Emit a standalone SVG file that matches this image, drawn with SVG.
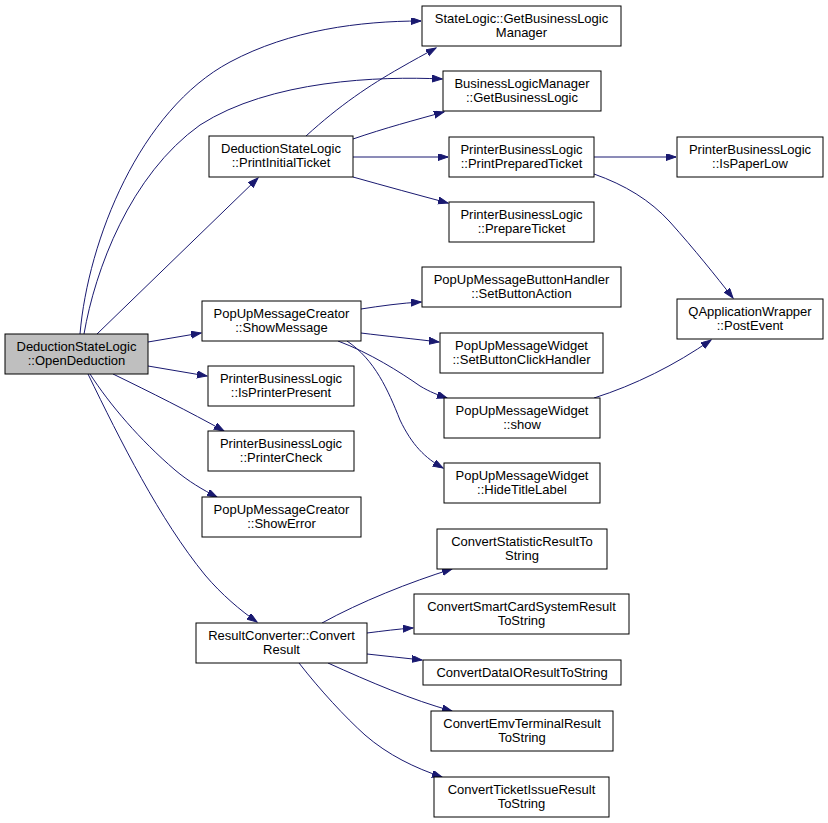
<svg xmlns="http://www.w3.org/2000/svg" width="828" height="823" viewBox="0 0 828 823">
<defs>
<style>
.n rect{fill:#fff;stroke:#000;stroke-width:1}
.n.root rect{fill:#bfbfbf}
.n text{font-family:"Liberation Sans",Arial,sans-serif;font-size:13px;fill:#000;text-anchor:middle}
.e path{fill:none;stroke:#191970;stroke-width:1;marker-end:url(#ah)}
</style>
<marker id="ah" markerWidth="11" markerHeight="8" refX="10" refY="3.5" orient="auto" markerUnits="userSpaceOnUse">
<path d="M0,0 L10,3.5 L0,7 z" fill="#191970" stroke="#191970" stroke-width="1"/>
</marker>
</defs>
<rect width="828" height="823" fill="#fff"/>
<g id="edges" class="e">
<path d="M97,334 L258,178"/>
<path d="M80,334 C88,240 140,110 230,62 C290,30 360,21 421,21"/>
<path d="M84,334 C95,270 130,175 200,125 C270,80 380,76 442,79"/>
<path d="M306,136 C340,105 370,85 400,68 C412,61 425,54 436,48"/>
<path d="M353,139 C385,128 415,120 444,112"/>
<path d="M353,157 L448,157"/>
<path d="M353,177 C385,186 418,195 448,203"/>
<path d="M594,157 L676,157"/>
<path d="M594,174 C625,185 650,200 670,222 C695,250 715,275 733,298"/>
<path d="M594,398 C635,385 675,365 711,340"/>
<path d="M148,342 L201,333"/>
<path d="M148,366 L207,376"/>
<path d="M113,374 C150,392 190,412 224,431"/>
<path d="M90,374 C110,405 140,440 175,470 C188,481 203,490 217,497"/>
<path d="M88,374 C120,440 160,520 205,575 C222,595 240,610 257,622"/>
<path d="M361,309 C380,306 402,303 421,302"/>
<path d="M361,333 C385,336 415,339 439,342"/>
<path d="M338,341 C370,353 400,372 420,386 C430,392 438,395 447,398"/>
<path d="M347,341 C375,360 388,390 400,420 C412,445 425,458 443,468"/>
<path d="M322,623 C360,602 410,582 452,569"/>
<path d="M367,633 C383,631 398,629 413,628"/>
<path d="M367,654 C385,656 404,658 422,660"/>
<path d="M328,663 C370,682 412,700 452,711"/>
<path d="M299,663 C320,690 345,717 365,735 C388,755 415,768 442,777"/>
</g>
<g id="n0" class="n root"><rect x="5" y="334" width="143" height="40"/><text x="76.5" y="350.5">DeductionStateLogic</text><text x="76.5" y="364.5">::OpenDeduction</text></g>
<g id="n1" class="n"><rect x="209" y="136" width="144" height="41"/><text x="281" y="152.5">DeductionStateLogic</text><text x="281" y="166.5">::PrintInitialTicket</text></g>
<g id="n2" class="n"><rect x="422" y="6" width="199" height="40"/><text x="521.5" y="22.5">StateLogic::GetBusinessLogic</text><text x="521.5" y="36.5">Manager</text></g>
<g id="n3" class="n"><rect x="443" y="71" width="158" height="40"/><text x="522" y="87.5">BusinessLogicManager</text><text x="522" y="101.5">::GetBusinessLogic</text></g>
<g id="n4" class="n"><rect x="449" y="137" width="145" height="40"/><text x="521.5" y="153.5">PrinterBusinessLogic</text><text x="521.5" y="167.5">::PrintPreparedTicket</text></g>
<g id="n5" class="n"><rect x="677" y="137" width="146" height="40"/><text x="750" y="153.5">PrinterBusinessLogic</text><text x="750" y="167.5">::IsPaperLow</text></g>
<g id="n6" class="n"><rect x="449" y="202" width="145" height="40"/><text x="521.5" y="218.5">PrinterBusinessLogic</text><text x="521.5" y="232.5">::PrepareTicket</text></g>
<g id="n7" class="n"><rect x="422" y="267" width="199" height="40"/><text x="521.5" y="283.5">PopUpMessageButtonHandler</text><text x="521.5" y="297.5">::SetButtonAction</text></g>
<g id="n8" class="n"><rect x="677" y="299" width="146" height="40"/><text x="750" y="315.5">QApplicationWrapper</text><text x="750" y="329.5">::PostEvent</text></g>
<g id="n9" class="n"><rect x="440" y="333" width="163" height="40"/><text x="521.5" y="349.5">PopUpMessageWidget</text><text x="521.5" y="363.5">::SetButtonClickHandler</text></g>
<g id="n10" class="n"><rect x="444" y="398" width="156" height="40"/><text x="522" y="414.5">PopUpMessageWidget</text><text x="522" y="428.5">::show</text></g>
<g id="n11" class="n"><rect x="444" y="463" width="156" height="40"/><text x="522" y="479.5">PopUpMessageWidget</text><text x="522" y="493.5">::HideTitleLabel</text></g>
<g id="n12" class="n"><rect x="202" y="301" width="159" height="40"/><text x="281.5" y="317.5">PopUpMessageCreator</text><text x="281.5" y="331.5">::ShowMessage</text></g>
<g id="n13" class="n"><rect x="208" y="366" width="146" height="40"/><text x="281" y="382.5">PrinterBusinessLogic</text><text x="281" y="396.5">::IsPrinterPresent</text></g>
<g id="n14" class="n"><rect x="208" y="431" width="146" height="40"/><text x="281" y="447.5">PrinterBusinessLogic</text><text x="281" y="461.5">::PrinterCheck</text></g>
<g id="n15" class="n"><rect x="202" y="497" width="159" height="40"/><text x="281.5" y="513.5">PopUpMessageCreator</text><text x="281.5" y="527.5">::ShowError</text></g>
<g id="n16" class="n"><rect x="196" y="623" width="171" height="40"/><text x="281.5" y="639.5">ResultConverter::Convert</text><text x="281.5" y="653.5">Result</text></g>
<g id="n17" class="n"><rect x="437" y="529" width="170" height="40"/><text x="522" y="545.5">ConvertStatisticResultTo</text><text x="522" y="559.5">String</text></g>
<g id="n18" class="n"><rect x="414" y="594" width="215" height="40"/><text x="521.5" y="610.5">ConvertSmartCardSystemResult</text><text x="521.5" y="624.5">ToString</text></g>
<g id="n19" class="n"><rect x="423" y="660" width="198" height="25"/><text x="522" y="677">ConvertDataIOResultToString</text></g>
<g id="n20" class="n"><rect x="431" y="711" width="182" height="40"/><text x="522" y="727.5">ConvertEmvTerminalResult</text><text x="522" y="741.5">ToString</text></g>
<g id="n21" class="n"><rect x="434" y="777" width="175" height="40"/><text x="521.5" y="793.5">ConvertTicketIssueResult</text><text x="521.5" y="807.5">ToString</text></g>
</svg>
